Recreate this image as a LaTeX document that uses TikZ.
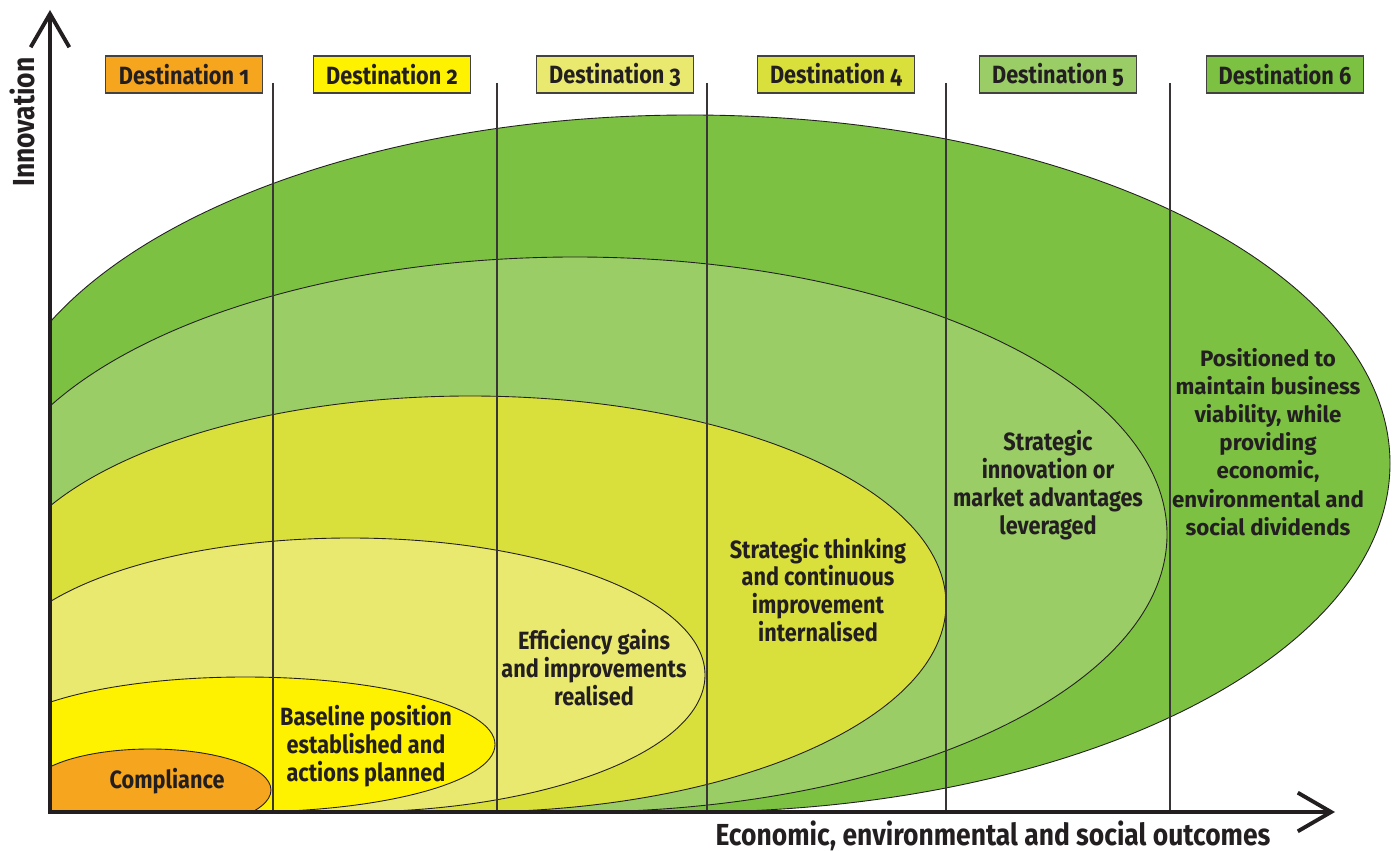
\documentclass[tikz,border=0pt]{standalone}
\usepackage{fontspec}
\setmainfont{Fira Sans}[Numbers=OldStyle]
\newfontfamily\narrowsans{Fira Sans}[FakeStretch=0.87, Numbers=OldStyle]
\usetikzlibrary{arrows.meta}

\begin{document}
\begin{tikzpicture}[x=0.02cm, y=-0.02cm,
    stage/.style={font=\narrowsans\bfseries\fontsize{14.2}{15.9}\selectfont, text=ink, align=center, inner sep=0pt},
    widestage/.style={font=\bfseries\fontsize{12.7}{16}\selectfont, text=ink, align=center, inner sep=0pt},
    destbox/.style={draw=ink!85, line width=0.8pt, minimum width=3.14cm, minimum height=0.74cm, inner sep=0pt,
        font=\narrowsans\bfseries\fontsize{14.2}{15.9}\selectfont, text=ink},
    ring/.style={draw=ink, line width=0.5pt},
    divider/.style={draw=ink!90, line width=0.8pt},
    axis/.style={draw=ink, line width=2.2pt, line join=miter,
        {Straight Barb[length=19pt, width=22pt]}-{Straight Barb[length=19pt, width=22pt]}},
    axislabel/.style={font=\narrowsans\bfseries\fontsize{17.3}{19}\selectfont, text=ink, inner sep=0pt}]

    \definecolor{ink}{HTML}{231F20}
    \definecolor{dest1}{HTML}{F6A51E}
    \definecolor{dest2}{HTML}{FFF200}
    \definecolor{dest3}{HTML}{E8E96E}
    \definecolor{dest4}{HTML}{DAE03B}
    \definecolor{dest5}{HTML}{9BCD67}
    \definecolor{dest6}{HTML}{7CC142}

    \useasboundingbox (0,0) rectangle (1396,851);

    % Nested stages, cut off by the axes
    \begin{scope}
        \clip (50,0) rectangle (1396,812);
        \fill[dest6, ring] (690,463.5) ellipse [x radius=700, y radius=348.5];
        \fill[dest5, ring] (575,534.5) ellipse [x radius=592, y radius=277.5];
        \fill[dest4, ring] (470,604) ellipse [x radius=476, y radius=208];
        \fill[dest3, ring] (350,675) ellipse [x radius=355, y radius=137];
        \fill[dest2, ring] (245,744.5) ellipse [x radius=250, y radius=67.5];
        \fill[dest1, ring] (150,790) ellipse [x radius=121, y radius=41];
    \end{scope}

    % Column dividers
    \foreach \x in {273,497,707,946,1170}
        \draw[divider] (\x,83) -- (\x,812);

    % Destination headers
    \node[destbox, fill=dest1] (d1) at (184,74.5) {Destination 1};
    \node[destbox, fill=dest2] (d2) at (392,74.5) {Destination 2};
    \node[destbox, fill=dest3] (d3) at (615,74.5) {Destination 3};
    \node[destbox, fill=dest4] (d4) at (836,74.5) {Destination 4};
    \node[destbox, fill=dest5] (d5) at (1058,74.5) {Destination 5};
    \node[destbox, fill=dest6] (d6) at (1285,74.5) {Destination 6};

    % Stage descriptions
    \node[stage] (compliance) at (167,781) {Compliance};
    \node[stage] (baseline) at (366,746) {Baseline position\\established and\\actions planned};
    \node[stage] (efficiency) at (594,668) {Efficiency gains\\and improvements\\realised};
    \node[stage] (thinking) at (818,590) {Strategic thinking\\and continuous\\improvement\\internalised};
    \node[stage] (leverage) at (1048,485) {Strategic\\innovation or\\market advantages\\leveraged};
    \node[widestage] (viability) at (1268,442) {Positioned to\\maintain business\\viability, while\\providing\\economic,\\environmental and\\social dividends};

    % Axes
    \coordinate (origin) at (50,812);
    \coordinate (ytip) at (50,10);
    \coordinate (xtip) at (1335,812);
    \draw[axis] (ytip) -- (origin) -- (xtip);

    \node[axislabel, rotate=90] (ylab) at (22,122) {Innovation};
    \node[axislabel] (xlab) at (993,836) {Economic, environmental and social outcomes};

\end{tikzpicture}
\end{document}
